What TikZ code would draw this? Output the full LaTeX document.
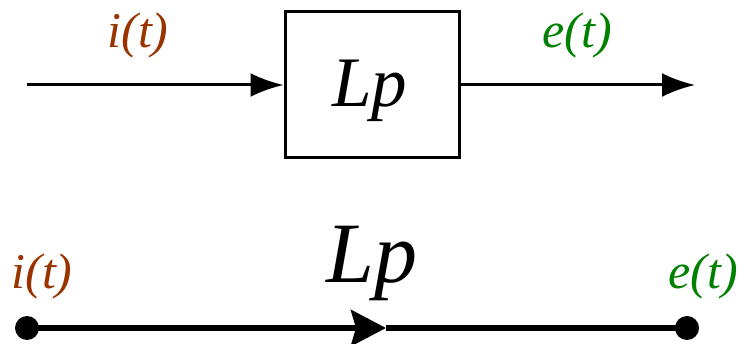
\documentclass[tikz,border=0pt]{standalone}
\usepackage{fontspec}
\setmainfont{Liberation Serif}
\usetikzlibrary{arrows.meta}
\definecolor{inbrown}{RGB}{153,51,0}
\definecolor{outgreen}{RGB}{0,128,0}
\begin{document}
\begin{tikzpicture}[x=1pt,y=-1pt,
  sig/.style={inner sep=0pt,anchor=base,font=\fontsize{50}{60}\selectfont\itshape},
  blockbox/.style={draw,line width=3pt,minimum width=174pt,minimum height=146pt,inner sep=0pt},
  wire/.style={line width=3pt,-{Latex[length=33pt,width=24pt]}},
  branch/.style={line width=6pt},
  terminal/.style={circle,fill=black,inner sep=0pt,minimum size=24pt}]
  \useasboundingbox (0,0) rectangle (744,344);
  % block diagram
  \node[blockbox] (box) at (372,85) {};
  \node[inner sep=0pt,anchor=base,font=\fontsize{71}{80}\selectfont\itshape] (lp) at (370,107) {Lp};
  \coordinate (in) at (27,85);
  \coordinate (out) at (695,85);
  \draw[wire] (in) -- (box.west);
  \draw[wire] (box.east) -- (out);
  \node[sig,text=inbrown] (itop) at (138,48) {i(t)};
  \node[sig,text=outgreen] (etop) at (577,48) {e(t)};
  % signal-flow branch
  \node[terminal] (na) at (27,328) {};
  \node[terminal] (nb) at (687,328) {};
  \coordinate (mid) at (386,328);
  \draw[branch,-{Stealth[length=35pt,width=36pt,inset=5pt]}] (na.center) -- (mid);
  \draw[branch] (mid) -- (nb.center);
  \node[inner sep=0pt,anchor=base,font=\fontsize{86}{96}\selectfont\itshape] (lpb) at (372,283) {Lp};
  \node[sig,text=inbrown] (ibot) at (42,289) {i(t)};
  \node[sig,text=outgreen] (ebot) at (703,289) {e(t)};
\end{tikzpicture}
\end{document}
